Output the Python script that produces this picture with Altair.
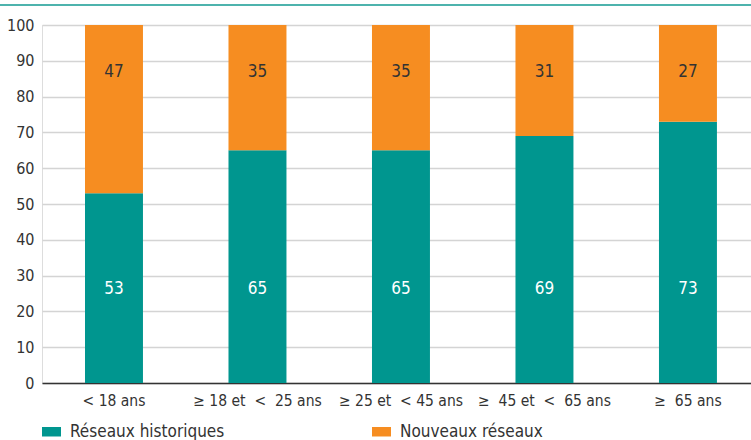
import altair as alt
import pandas as pd

NB = "\u00a0"
categories = ["< 18 ans", "≥ 18 et" + NB + " <" + NB + " 25 ans", "≥ 25 et" + NB + " < 45 ans",
              "≥" + NB + " 45 et" + NB + " <" + NB + " 65 ans", "≥" + NB + " 65 ans"]
historiques = [53, 65, 65, 69, 73]
nouveaux = [47, 35, 35, 31, 27]
series = ["Réseaux historiques", "Nouveaux réseaux"]
colors = ["#00968f", "#f68d21"]

rows = []
for c, h, n in zip(categories, historiques, nouveaux):
    rows.append({"cat": c, "serie": series[0], "val": h, "ord": 0})
    rows.append({"cat": c, "serie": series[1], "val": n, "ord": 1})
df = pd.DataFrame(rows)

FONT = "'DejaVu Sans Condensed', Roboto, sans-serif"
W, H = 709, 358

base = alt.Chart(df)

x = alt.X("cat:N", sort=categories, title=None,
          scale=alt.Scale(paddingInner=0.596, paddingOuter=0.2685, align=0.558),
          axis=alt.Axis(labelAngle=0, labelFont=FONT, labelFontSize=15.5, labelColor="#333333",
                        domainColor="#333333", domainWidth=1.5, ticks=False, labelPadding=10,
                        grid=False))

bars = base.mark_bar().encode(
    x=x,
    y=alt.Y("val:Q", stack="zero", title=None,
            scale=alt.Scale(domain=[0, 100], nice=False),
            axis=alt.Axis(values=list(range(0, 101, 10)), labelFont=FONT, labelFontSize=16,
                          labelColor="#333333", ticks=False, domain=False, labelPadding=8,
                          gridColor="#d4d4d4", gridWidth=1.5)),
    color=alt.Color("serie:N", scale=alt.Scale(domain=series, range=colors),
                    legend=alt.Legend(title=None, orient="none", legendX=0, legendY=397,
                                      direction="horizontal", columns=2, columnPadding=147,
                                      symbolType="M-1,-0.5H1V0.5H-1Z", symbolSize=360,
                                      symbolStrokeWidth=0, symbolOpacity=1,
                                      labelFont=FONT, labelFontSize=17, labelColor="#333333",
                                      labelOffset=9, labelLimit=300)),
    order=alt.Order("ord:Q"),
)

lab_h = base.mark_text(font=FONT, fontSize=17, color="white").encode(
    x=alt.X("cat:N", sort=categories),
    y=alt.value(264),
    text="val:Q",
).transform_filter(alt.datum.serie == series[0])

lab_n = base.mark_text(font=FONT, fontSize=17, color="#333333").encode(
    x=alt.X("cat:N", sort=categories),
    y=alt.value(47),
    text="val:Q",
).transform_filter(alt.datum.serie == series[1])

topline = alt.Chart(pd.DataFrame({"a": [0]})).mark_rule(color="#4db3ad", strokeWidth=2).encode(
    x=alt.value(-42), x2=alt.value(W), y=alt.value(-20)
)

chart = alt.layer(bars, lab_h, lab_n, topline).properties(
    width=W, height=H,
    autosize=alt.AutoSizeParams(type="none"),
    padding={"left": 42, "top": 25, "right": 0, "bottom": 57},
).configure_view(stroke=None).configure(background="white")

chart.save("out.html", embed_options={"renderer": "svg", "actions": False})
